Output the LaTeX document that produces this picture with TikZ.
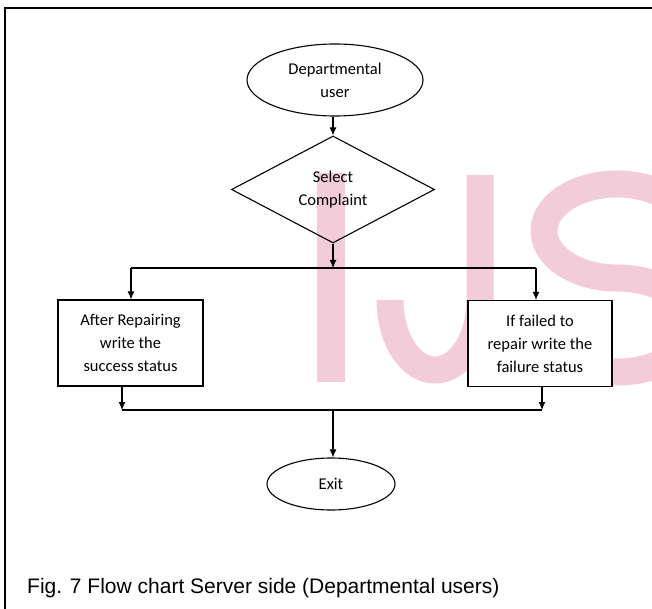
\documentclass[tikz,border=0pt]{standalone}
\usepackage{fontspec}
\setmainfont{Liberation Sans}
\newfontfamily\nodefamily{Carlito}
\usetikzlibrary{shapes.geometric,arrows.meta}
\definecolor{wmpink}{rgb}{0.95,0.80,0.85}
\tikzset{
  conn/.style={line width=1.1pt, draw=black},
  arr/.style={conn, -{Latex[length=8pt,width=7pt]}},
  ovalbox/.style={ellipse, draw, line width=1.1pt, inner sep=0pt, align=center,
    font=\nodefamily\fontsize{16.5}{23}\selectfont},
  decbox/.style={diamond, draw, line width=1.1pt, inner sep=0pt, aspect=1.9, align=center,
    font=\nodefamily\fontsize{16.5}{23}\selectfont},
  procbox/.style={rectangle, draw, fill=white, line width=1.1pt, inner sep=0pt, align=center,
    font=\nodefamily\fontsize{16.5}{23}\selectfont},
  frameline/.style={line width=1.5pt, draw=black},
  wmstroke/.style={draw=wmpink, line width=27pt, line cap=butt},
  captiontext/.style={anchor=base west, inner sep=0pt, font=\fontsize{21}{24}\selectfont}
}
\begin{document}
\begin{tikzpicture}[x=1pt,y=-1pt]
\useasboundingbox (0,0) rectangle (652,609);
\fill[white] (0,0) rectangle (652,609);
% watermark letters I J S
\begin{scope}
  \clip (0,0) rectangle (652,609);
  \fill[wmpink] (317,173) rectangle (345,382);
  \draw[wmstroke] (480,175) -- (480,300) arc[start angle=0, end angle=180, x radius=45, y radius=70];
  \draw[wmstroke] (617,231) ++(-15:73 and 47)
     arc[start angle=-15, end angle=-270, x radius=73, y radius=47]
     arc[start angle=-90, end angle=165, x radius=75, y radius=47];
\end{scope}
% frame
\draw[frameline] (5,609) -- (5,8) -- (652,8);
% nodes
\node[ovalbox, minimum width=176pt, minimum height=72pt] (u) at (335,80) {Departmental\\user};
\node[decbox, minimum width=203pt, minimum height=107pt] (d) at (333,189.5) {Select\\Complaint};
\node[procbox, minimum width=145pt, minimum height=86pt] (bl) at (130.5,343) {After Repairing\\write the\\success status};
\node[procbox, minimum width=144pt, minimum height=86pt] (br) at (540,343.5) {If failed to\\repair write the\\failure status};
\node[ovalbox, minimum width=128pt, minimum height=52pt] (ex) at (331,484) {Exit};
% coordinates
\coordinate (jt) at (333,268);
\coordinate (tl) at (131,268);
\coordinate (tr) at (536,268);
\coordinate (jb) at (333,410);
\coordinate (bl2) at (122,410);
\coordinate (br2) at (542,410);
% connectors
\draw[arr] (u.south -| d.north) -- (d.north);
\draw[arr] (d.south) -- (jt);
\draw[conn] (tl) -- (tr);
\draw[arr] (tl) -- (tl |- bl.north);
\draw[arr] (tr) -- (tr |- br.north);
\draw[arr] (bl2 |- bl.south) -- (bl2);
\draw[arr] (br2 |- br.south) -- (br2);
\draw[conn] (bl2) -- (br2);
\draw[arr] (jb) -- (jb |- ex.north);
% caption
\node[captiontext] (cap) at (27,593) {Fig. 7 Flow chart Server side (Departmental users)};
\end{tikzpicture}
\end{document}
